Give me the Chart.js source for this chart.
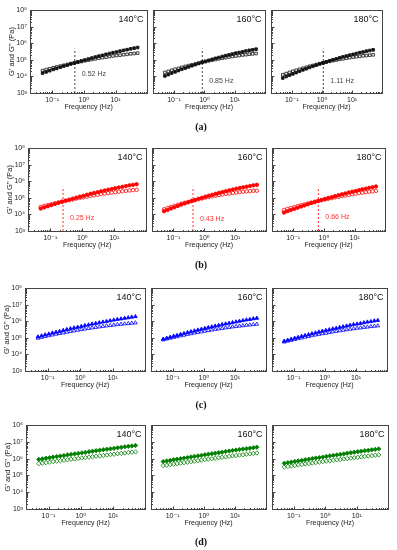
<!DOCTYPE html>
<html>
<head>
<meta charset="utf-8">
<script src="https://cdn.jsdelivr.net/npm/chart.js@4/dist/chart.umd.min.js"></script>
<style>
  body { margin: 0; background: #fff; }
  #page { position: relative; width: 397px; height: 550px; overflow: hidden; background: #fff; }
  #page canvas { position: absolute; }
  .tag { position: absolute; width: 40px; text-align: center; font: bold 10px "Liberation Serif", serif; color: #111; }
</style>
</head>
<body>
<div id="page"></div>
<script>
// frequencies (Hz), same sweep in every panel
const freqHz = [0.05, 0.0646, 0.0834, 0.108, 0.139, 0.18, 0.232, 0.3, 0.387, 0.5, 0.646, 0.834, 1.08, 1.39,
                1.8, 2.32, 3.0, 3.87, 5.0, 6.46, 8.34, 10.8, 13.9, 18.0, 23.2, 30.0, 38.7, 50.0];
const temps = ['140°C', '160°C', '180°C'];
const rowTags = ['(a)', '(b)', '(c)', '(d)'];

// log10 of G' and G'' (Pa)
const gpA140  = [4.20,4.27,4.34,4.42,4.48,4.55,4.62,4.68,4.75,4.81,4.87,4.93,4.99,5.05,5.11,5.17,5.22,5.27,5.33,5.38,5.43,5.47,5.52,5.57,5.61,5.66,5.70,5.74];
const gppA140 = [4.35,4.41,4.46,4.52,4.57,4.62,4.67,4.72,4.77,4.81,4.86,4.90,4.94,4.98,5.02,5.06,5.10,5.13,5.16,5.20,5.23,5.26,5.28,5.31,5.33,5.36,5.38,5.40];
const gpA160  = [4.03,4.11,4.20,4.27,4.35,4.43,4.50,4.57,4.64,4.71,4.78,4.85,4.91,4.97,5.03,5.09,5.14,5.20,5.25,5.30,5.35,5.40,5.44,5.48,5.53,5.57,5.60,5.64];
const gppA160 = [4.24,4.30,4.37,4.43,4.48,4.54,4.60,4.65,4.70,4.75,4.80,4.85,4.89,4.94,4.98,5.02,5.06,5.10,5.13,5.17,5.20,5.23,5.26,5.29,5.31,5.34,5.36,5.38];
const gpA180  = [3.90,3.99,4.07,4.15,4.23,4.31,4.39,4.46,4.54,4.61,4.68,4.75,4.81,4.88,4.94,5.00,5.06,5.12,5.18,5.23,5.28,5.33,5.38,5.43,5.47,5.52,5.56,5.60];
const gppA180 = [4.10,4.17,4.24,4.31,4.37,4.43,4.49,4.55,4.61,4.66,4.71,4.77,4.81,4.86,4.91,4.95,4.99,5.03,5.06,5.10,5.13,5.16,5.19,5.21,5.24,5.26,5.28,5.30];

const gpB140  = [4.35,4.42,4.49,4.56,4.63,4.70,4.76,4.83,4.89,4.95,5.01,5.07,5.12,5.18,5.24,5.29,5.34,5.39,5.44,5.49,5.53,5.58,5.62,5.66,5.71,5.75,5.78,5.82];
const gppB140 = [4.45,4.51,4.56,4.61,4.67,4.72,4.77,4.81,4.86,4.90,4.95,4.99,5.03,5.07,5.11,5.15,5.18,5.22,5.25,5.28,5.31,5.34,5.37,5.39,5.42,5.44,5.46,5.48];
const gpB160  = [4.19,4.27,4.36,4.43,4.51,4.59,4.66,4.73,4.80,4.87,4.94,5.00,5.07,5.13,5.18,5.24,5.30,5.35,5.40,5.45,5.50,5.55,5.59,5.63,5.67,5.71,5.75,5.78];
const gppB160 = [4.31,4.38,4.45,4.51,4.58,4.64,4.70,4.75,4.81,4.86,4.91,4.96,5.01,5.05,5.09,5.13,5.17,5.20,5.24,5.26,5.29,5.32,5.34,5.37,5.39,5.40,5.42,5.43];
const gpB180  = [4.11,4.19,4.26,4.33,4.40,4.47,4.54,4.61,4.68,4.74,4.80,4.87,4.93,4.99,5.04,5.10,5.16,5.21,5.26,5.32,5.37,5.41,5.46,5.51,5.55,5.60,5.64,5.68];
const gppB180 = [4.27,4.33,4.39,4.44,4.50,4.55,4.61,4.66,4.71,4.76,4.81,4.85,4.90,4.94,4.98,5.03,5.06,5.10,5.14,5.18,5.21,5.25,5.28,5.31,5.34,5.37,5.39,5.42];

const gpC140  = [5.06,5.12,5.18,5.23,5.29,5.34,5.39,5.45,5.50,5.55,5.60,5.64,5.69,5.74,5.78,5.83,5.87,5.91,5.95,5.99,6.03,6.07,6.11,6.14,6.18,6.21,6.25,6.28];
const gppC140 = [4.98,5.03,5.08,5.13,5.17,5.22,5.26,5.30,5.34,5.38,5.42,5.46,5.50,5.53,5.57,5.60,5.63,5.66,5.69,5.72,5.74,5.77,5.80,5.82,5.84,5.86,5.88,5.90];
const gpC160  = [4.92,4.98,5.04,5.10,5.15,5.21,5.26,5.32,5.37,5.42,5.47,5.52,5.57,5.62,5.66,5.71,5.75,5.80,5.84,5.88,5.92,5.96,6.00,6.04,6.08,6.11,6.15,6.18];
const gppC160 = [4.88,4.93,4.98,5.03,5.07,5.12,5.16,5.21,5.25,5.29,5.33,5.36,5.40,5.44,5.47,5.51,5.54,5.57,5.60,5.63,5.66,5.68,5.71,5.73,5.76,5.78,5.80,5.82];
const gpC180  = [4.80,4.86,4.92,4.98,5.03,5.09,5.14,5.19,5.25,5.30,5.35,5.40,5.45,5.49,5.54,5.58,5.63,5.67,5.71,5.76,5.80,5.83,5.87,5.91,5.95,5.98,6.02,6.05];
const gppC180 = [4.75,4.80,4.85,4.90,4.95,4.99,5.04,5.08,5.13,5.17,5.21,5.25,5.28,5.32,5.36,5.39,5.43,5.46,5.49,5.52,5.55,5.58,5.60,5.63,5.65,5.68,5.70,5.72];

const gpD140  = [5.95,5.98,6.02,6.05,6.09,6.12,6.15,6.18,6.22,6.25,6.28,6.31,6.34,6.37,6.41,6.44,6.47,6.50,6.53,6.56,6.58,6.61,6.64,6.67,6.70,6.73,6.75,6.78];
const gppD140 = [5.70,5.73,5.76,5.79,5.82,5.85,5.87,5.90,5.93,5.96,5.98,6.01,6.04,6.06,6.09,6.11,6.14,6.16,6.19,6.21,6.24,6.26,6.29,6.31,6.33,6.36,6.38,6.40];
const gpD160  = [5.82,5.86,5.89,5.93,5.96,5.99,6.03,6.06,6.10,6.13,6.16,6.19,6.23,6.26,6.29,6.32,6.35,6.38,6.42,6.45,6.48,6.51,6.54,6.57,6.59,6.62,6.65,6.68];
const gppD160 = [5.58,5.61,5.64,5.67,5.70,5.73,5.76,5.79,5.82,5.85,5.88,5.91,5.94,5.97,5.99,6.02,6.05,6.08,6.10,6.13,6.16,6.18,6.21,6.23,6.26,6.28,6.31,6.33];
const gpD180  = [5.72,5.76,5.79,5.83,5.86,5.89,5.93,5.96,6.00,6.03,6.06,6.09,6.13,6.16,6.19,6.22,6.25,6.28,6.32,6.35,6.38,6.41,6.44,6.47,6.49,6.52,6.55,6.58];
const gppD180 = [5.50,5.53,5.56,5.59,5.62,5.65,5.68,5.71,5.73,5.76,5.79,5.82,5.85,5.87,5.90,5.93,5.95,5.98,6.00,6.03,6.05,6.08,6.10,6.13,6.15,6.17,6.20,6.22];

// crossover frequencies (Hz)
const crossA = [0.52, 0.85, 1.11];
const crossB = [0.25, 0.43, 0.66];
const crossTop = 4.6e5;                 // upper end of the dashed marker (Pa)
const crossLabelA = [1.3e4, 5.5e3, 5.5e3];
const crossLabelB = [6.3e3, 5.4e3, 7.2e3];

const xTicks = [0.1, 1, 10];
const yTicks = [1e3, 1e4, 1e5, 1e6, 1e7, 1e8];

const SUP = { '-': '⁻', '0': '⁰', '1': '¹', '2': '²', '3': '³', '4': '⁴', '5': '⁵', '6': '⁶', '7': '⁷', '8': '⁸', '9': '⁹' };
function powLabel(v) {
    const e = String(Math.round(Math.log10(v)));
    return '10' + e.split('').map(c => SUP[c]).join('');
}

const rows = [
    { gp: [gpA140, gpA160, gpA180], gpp: [gppA140, gppA160, gppA180], color: '#111', dash: '#444',
      style: 'rect', radius: 1.85, cross: crossA, crossLabel: crossLabelA,
      geom: { top: 10, bottom: 93, xs: [30, 148, 266, 383] } },
    { gp: [gpB140, gpB160, gpB180], gpp: [gppB140, gppB160, gppB180], color: '#ff0000', dash: '#ff3030',
      style: 'circle', radius: 1.75, cross: crossB, crossLabel: crossLabelB,
      geom: { top: 148, bottom: 231, xs: [28, 147, 267, 386] } },
    { gp: [gpC140, gpC160, gpC180], gpp: [gppC140, gppC160, gppC180], color: '#0000ff',
      style: 'triangle', radius: 2.15, cross: null,
      geom: { top: 288, bottom: 371, xs: [25, 146, 267, 388] } },
    { gp: [gpD140, gpD160, gpD180], gpp: [gppD140, gppD160, gppD180], color: '#008000',
      style: 'rectRot', radius: 2.2, cross: null,
      geom: { top: 425, bottom: 509, xs: [26, 146, 267, 389] } }
];

// frame, inner ticks, temperature and crossover labels
const framePlugin = {
    id: 'frame',
    afterDatasetsDraw(chart, args, opts) {
        const { ctx, chartArea: a, scales: { x, y } } = chart;
        const L = Math.round(a.left) + 0.5, R = Math.round(a.right) + 0.5;
        const T = Math.round(a.top) + 0.5, B = Math.round(a.bottom) + 0.5;
        ctx.save();
        ctx.strokeStyle = '#444';
        ctx.lineWidth = 1;
        ctx.strokeRect(L, T, R - L, B - T);
        ctx.beginPath();
        for (let e = -2; e <= 2; e++) {
            for (let m = 1; m <= 9; m++) {
                const v = m * Math.pow(10, e);
                if (v <= x.min || v >= x.max) continue;
                const px = Math.round(x.getPixelForValue(v)) + 0.5;
                ctx.moveTo(px, B);
                ctx.lineTo(px, B - (m === 1 ? 3 : 1.5));
            }
        }
        for (let e = 3; e <= 8; e++) {
            for (let m = 1; m <= 9; m++) {
                const v = m * Math.pow(10, e);
                if (v <= y.min || v >= y.max) continue;
                const py = Math.round(y.getPixelForValue(v)) + 0.5;
                ctx.moveTo(L, py);
                ctx.lineTo(L + (m === 1 ? 3 : 1.5), py);
            }
        }
        ctx.stroke();

        ctx.fillStyle = '#111';
        ctx.font = '9px "Liberation Sans", Arial, sans-serif';
        ctx.textAlign = 'right';
        ctx.textBaseline = 'middle';
        ctx.fillText(opts.temp, R - 4, T + 9);

        if (opts.crossAt) {
            ctx.fillStyle = opts.crossColor;
            ctx.font = '7px "Liberation Sans", Arial, sans-serif';
            ctx.textAlign = 'left';
            ctx.fillText(opts.crossAt.toFixed(2) + ' Hz', x.getPixelForValue(opts.crossAt) + 7, y.getPixelForValue(opts.labelY));
        }
        ctx.restore();
    }
};

const page = document.getElementById('page');
const PT = 6, PR = 4, XH = 22;
const tickFont = { family: '"Liberation Sans", "DejaVu Sans", sans-serif', size: 7 };

rows.forEach((row, r) => {
    const g = row.geom;
    for (let p = 0; p < 3; p++) {
        const plotL = g.xs[p], plotR = g.xs[p + 1];
        const yW = p === 0 ? plotL : 0;
        const w = yW + (plotR - plotL) + PR;
        const h = PT + (g.bottom - g.top) + XH;
        const canvas = document.createElement('canvas');
        canvas.width = w;
        canvas.height = h;
        canvas.style.left = (plotL - yW) + 'px';
        canvas.style.top = (g.top - PT) + 'px';
        page.appendChild(canvas);

        const datasets = [
            {   // G'' offen
                data: freqHz.map((f, i) => ({ x: f, y: Math.pow(10, row.gpp[p][i]) })),
                showLine: false, pointStyle: row.style, pointRadius: row.radius, pointBorderWidth: 0.8,
                pointBorderColor: row.color, pointBackgroundColor: 'rgba(255,255,255,0)'
            },
            {   // G' gefüllt
                data: freqHz.map((f, i) => ({ x: f, y: Math.pow(10, row.gp[p][i]) })),
                showLine: false, pointStyle: row.style, pointRadius: row.radius, pointBorderWidth: 0.8,
                pointBorderColor: row.color, pointBackgroundColor: row.color
            }
        ];
        if (row.cross) {
            datasets.push({
                data: [{ x: row.cross[p], y: 1e3 }, { x: row.cross[p], y: crossTop }],
                showLine: true, pointRadius: 0, borderColor: row.dash, borderWidth: 1, borderDash: [2, 2]
            });
        }

        new Chart(canvas, {
            type: 'line',
            data: { datasets: datasets },
            options: {
                responsive: false,
                animation: false,
                devicePixelRatio: 1,
                layout: { padding: { top: PT, right: PR, left: 0, bottom: 0 } },
                plugins: {
                    legend: { display: false },
                    tooltip: { enabled: false },
                    frame: {
                        temp: temps[p],
                        crossAt: row.cross ? row.cross[p] : null,
                        crossColor: row.dash,
                        labelY: row.cross ? row.crossLabel[p] : null
                    }
                },
                scales: {
                    x: {
                        type: 'logarithmic', min: 0.02, max: 100, bounds: 'data',
                        afterBuildTicks: s => { s.ticks = xTicks.map(v => ({ value: v })); },
                        afterFit: s => { s.height = XH; s.paddingLeft = 0; s.paddingRight = 0; },
                        grid: { display: false, drawTicks: false },
                        border: { display: false },
                        ticks: { font: tickFont, color: '#222', padding: 3, autoSkip: false, maxRotation: 0,
                                 callback: v => powLabel(v) },
                        title: { display: true, text: 'Frequency (Hz)', color: '#222',
                                 font: { family: '"Liberation Sans", sans-serif', size: 7 },
                                 padding: { top: 0, bottom: 4 } }
                    },
                    y: {
                        type: 'logarithmic', min: 1e3, max: 1e8, bounds: 'data',
                        display: p === 0,
                        afterBuildTicks: s => { s.ticks = yTicks.map(v => ({ value: v })); },
                        afterFit: s => { if (p === 0) s.width = yW; s.paddingTop = 0; s.paddingBottom = 0; },
                        grid: { display: false, drawTicks: false },
                        border: { display: false },
                        ticks: { font: tickFont, color: '#222', padding: 3, autoSkip: false,
                                 callback: v => powLabel(v) },
                        title: { display: true, text: "G' and G'' (Pa)", color: '#222',
                                 font: { family: '"Liberation Sans", sans-serif', size: 7.5 },
                                 padding: { top: Math.max(0, yW - 22.5), bottom: 0 } }
                    }
                }
            },
            plugins: [framePlugin]
        });
    }
    const tag = document.createElement('div');
    tag.className = 'tag';
    tag.textContent = rowTags[r];
    tag.style.left = '181px';
    tag.style.top = (g.top + 111) + 'px';
    page.appendChild(tag);
});
</script>
</body>
</html>
